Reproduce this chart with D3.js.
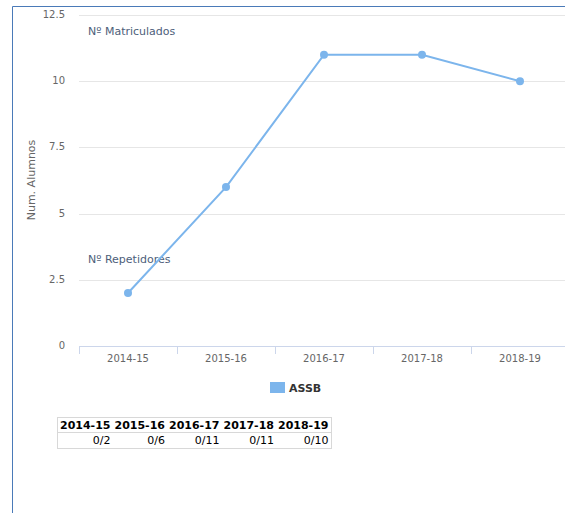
<!DOCTYPE html>
<html lang="es">
<head>
<meta charset="UTF-8">
<script src="https://d3js.org/d3.v7.min.js"></script>
<style>
  body { margin: 0; background: #fff; font-family: "DejaVu Sans", sans-serif; }
  svg { position: absolute; left: 0; top: 0; }
  .tabla { position: absolute; left: 57px; top: 417px; border-collapse: collapse;
           border: 1px solid #d8d8d8; font-size: 11px; }
  .tabla th { font-weight: bold; padding: 1px 2px 0 2px; border-bottom: 1px solid #d8d8d8; color: #000; }
  .tabla td { text-align: right; padding: 1px 2px 1px 2px; color: #000; }
</style>
</head>
<body>
<svg width="565" height="515"></svg>
<table class="tabla"></table>

<script>
  const cursos = ["2014-15", "2015-16", "2016-17", "2017-18", "2018-19"];
  const matriculados = [2, 6, 11, 11, 10];
  const repetidores = [0, 0, 0, 0, 0];
  const yTicks = [0, 2.5, 5, 7.5, 10, 12.5];
  const serie = "ASSB";

  const svg = d3.select("svg");

  // borde del contenedor
  svg.append("path")
    .attr("d", "M12.5,513 L12.5,6.5 L565,6.5")
    .attr("fill", "none")
    .attr("stroke", "#4a7ab8")
    .attr("stroke-width", 1);

  const x = d3.scaleBand().domain(cursos).range([79, 569]);
  const y = d3.scaleLinear().domain([0, 12.5]).range([346, 15]);

  // lineas de grilla
  svg.selectAll("line.grid")
    .data(yTicks)
    .enter()
    .append("line")
    .attr("class", "grid")
    .attr("x1", 79)
    .attr("x2", 565)
    .attr("y1", d => Math.round(y(d)) + 0.5)
    .attr("y2", d => Math.round(y(d)) + 0.5)
    .attr("stroke", "#e6e6e6");

  svg.selectAll("text.ytick")
    .data(yTicks)
    .enter()
    .append("text")
    .attr("class", "ytick")
    .attr("x", 65)
    .attr("y", d => y(d) + 3)
    .attr("text-anchor", "end")
    .attr("font-size", 10)
    .attr("fill", "#666")
    .text(d => d);

  // eje x
  const eje = svg.append("g").attr("transform", "translate(0,346)");
  eje.append("line")
    .attr("x1", 79).attr("x2", 565)
    .attr("y1", 0.5).attr("y2", 0.5)
    .attr("stroke", "#ccd6eb");
  eje.selectAll("line.tick")
    .data(cursos)
    .enter()
    .append("line")
    .attr("class", "tick")
    .attr("x1", d => Math.round(x(d)) + 0.5)
    .attr("x2", d => Math.round(x(d)) + 0.5)
    .attr("y1", 0)
    .attr("y2", 8)
    .attr("stroke", "#ccd6eb");
  eje.selectAll("text")
    .data(cursos)
    .enter()
    .append("text")
    .attr("x", d => x(d) + x.bandwidth() / 2)
    .attr("y", 16)
    .attr("text-anchor", "middle")
    .attr("font-size", 10)
    .attr("fill", "#666")
    .text(d => d);

  // titulo eje y
  svg.append("text")
    .attr("transform", "translate(35,180) rotate(-90)")
    .attr("text-anchor", "middle")
    .attr("font-size", 11)
    .attr("fill", "#666")
    .text("Num. Alumnos");

  // etiquetas
  svg.append("text").attr("x", 88).attr("y", 35)
    .attr("font-size", 11).attr("fill", "#4d5e7a").text("Nº Matriculados");
  svg.append("text").attr("x", 88).attr("y", 263)
    .attr("font-size", 11).attr("fill", "#4d5e7a").text("Nº Repetidores");

  // linea
  const cx = (d, i) => x(cursos[i]) + x.bandwidth() / 2;
  const linea = d3.line().x(cx).y(d => y(d));
  svg.append("path")
    .datum(matriculados)
    .attr("d", linea)
    .attr("fill", "none")
    .attr("stroke", "#7cb5ec")
    .attr("stroke-width", 2);

  svg.selectAll("circle")
    .data(matriculados)
    .enter()
    .append("circle")
    .attr("cx", cx)
    .attr("cy", d => y(d))
    .attr("r", 4)
    .attr("fill", "#7cb5ec");

  // leyenda
  svg.append("rect")
    .attr("x", 270).attr("y", 382)
    .attr("width", 15).attr("height", 11)
    .attr("fill", "#7cb5ec");
  svg.append("text")
    .attr("x", 289).attr("y", 392)
    .attr("font-size", 11).attr("font-weight", "bold")
    .attr("fill", "#333")
    .text(serie);

  // tabla
  const tabla = d3.select(".tabla");
  tabla.append("tr").selectAll("th")
    .data(cursos).enter().append("th").text(d => d);
  tabla.append("tr").selectAll("td")
    .data(cursos).enter().append("td")
    .text((d, i) => repetidores[i] + "/" + matriculados[i]);
</script>
</body>
</html>
